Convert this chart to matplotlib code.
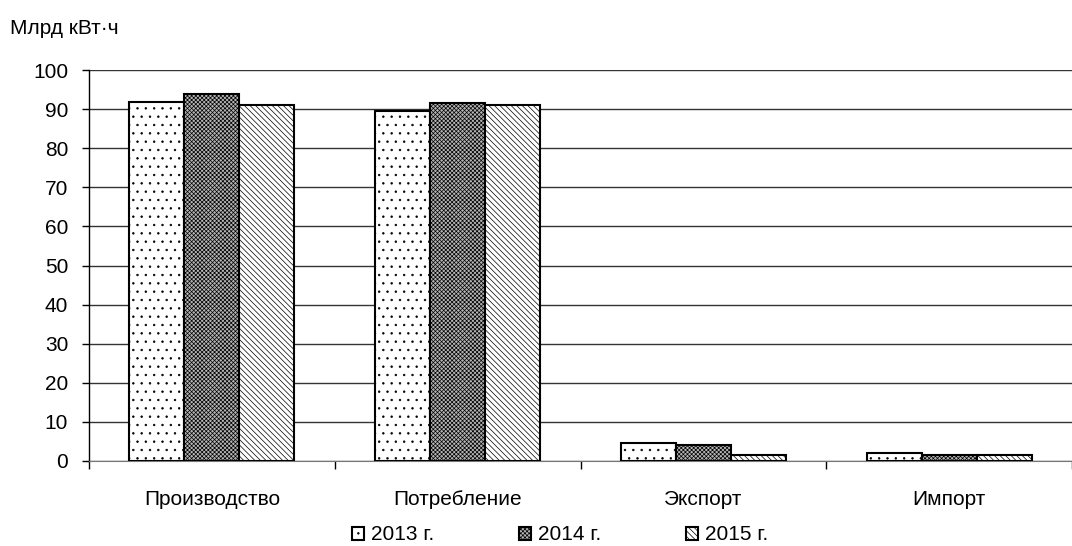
import matplotlib.pyplot as plt
import matplotlib.transforms as mtransforms
import numpy as np

plt.rcParams['font.family'] = ['Liberation Sans', 'DejaVu Sans']
plt.rcParams['hatch.linewidth'] = 0.5

categories = ['Производство', 'Потребление', 'Экспорт', 'Импорт']
years = ['2013 г.', '2014 г.', '2015 г.']
v2013 = [91.8, 89.5, 4.6, 2.1]
v2014 = [93.9, 91.6, 4.0, 1.6]
v2015 = [91.1, 91.1, 1.6, 1.6]

styles = [
    {'facecolor': 'white', 'hatch': '..'},
    {'facecolor': '#b4b4b4', 'hatch': 'xxxxxxxx'},
    {'facecolor': 'white', 'hatch': '\\' * 6},
]

W, H = 1072, 546
fig = plt.figure(figsize=(W / 100, H / 100), dpi=100)
ax = fig.add_axes([89 / W, (H - 461) / H, (W - 89) / W, 391 / H])

x = np.arange(len(categories))
w = 0.224
for i, (vals, st) in enumerate(zip([v2013, v2014, v2015], styles)):
    ax.bar(x + (i - 1) * w, vals, width=w, edgecolor='black', linewidth=1.5,
           label=years[i], zorder=3, **st)

ax.set_ylim(0, 100)
ax.set_xlim(-0.5, -0.5 + 983 / 248)
ax.set_yticks(range(0, 101, 10))
ax.yaxis.grid(True, color='#333333', linewidth=1.0, zorder=0)
ax.set_axisbelow(True)

ax.set_xticks(np.arange(-0.5, 4, 1.0))
ax.set_xticklabels([])
ax.tick_params(axis='x', direction='out', length=6, width=1, color='black')
ax.tick_params(axis='y', direction='out', length=5, width=1, pad=10, labelsize=15)

# category names, baseline-aligned
trans = mtransforms.blended_transform_factory(ax.transData, fig.transFigure)
for xi, name in zip(x, categories):
    ax.text(xi, 1 - 505 / H, name, transform=trans, ha='center', va='baseline',
            fontsize=15, clip_on=False)

for s in ['top', 'right']:
    ax.spines[s].set_visible(False)
ax.spines['left'].set_linewidth(1.0)
ax.spines['bottom'].set_color('#777777')

fig.text(10 / W, 1 - 34 / H, 'Млрд кВт·ч', fontsize=15, va='baseline', ha='left')

fig.legend(loc='center', bbox_to_anchor=(560 / W, 1 - 535 / H), ncol=3,
           frameon=False, fontsize=15, handlelength=0.58, handleheight=0.58,
           handletextpad=0.3, columnspacing=4.1, borderpad=0, borderaxespad=0)

fig.savefig('out.png', dpi=100)
